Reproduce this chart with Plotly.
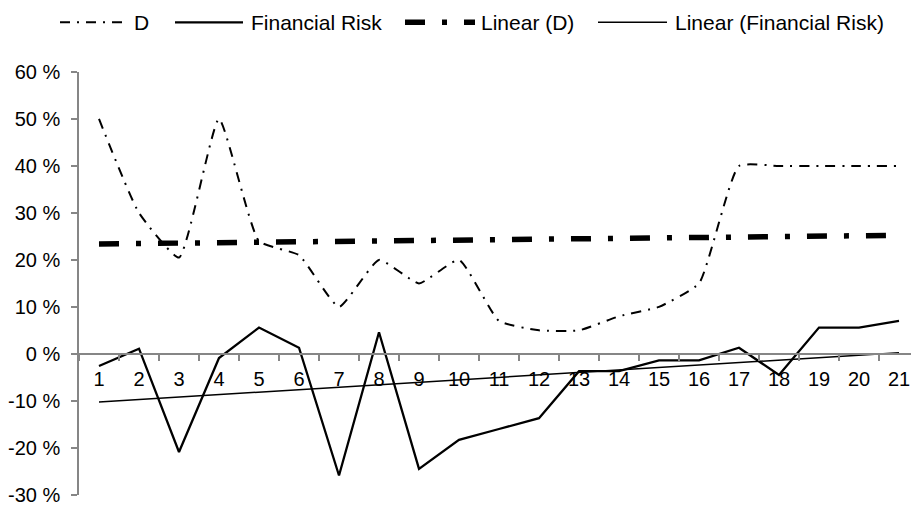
import numpy as np
import plotly.graph_objects as go

# Observations 1..21
periods = [str(i) for i in range(1, 22)]

# Series values in percent
d_values = [50, 30, 20.5, 50, 24, 21, 10, 20, 15, 20, 7, 5, 5, 8, 10, 15, 40, 40, 40, 40, 40]
financial_risk = [-2.6, 1.1, -20.9, -0.9, 5.6, 1.3, -25.9, 4.6, -24.5, -18.3, -16.0,
                  -13.7, -3.7, -3.7, -1.4, -1.4, 1.3, -4.5, 5.6, 5.6, 7.0]

y_ticks = [-30, -20, -10, 0, 10, 20, 30, 40, 50, 60]
y_tick_text = [f"{v} %" for v in y_ticks]

series_names = ["D", "Financial Risk", "Linear (D)", "Linear (Financial Risk)"]

# Least-squares linear trend lines, as in a spreadsheet "Linear" trendline
idx = np.arange(1, len(periods) + 1)
d_fit = np.polyval(np.polyfit(idx, d_values, 1), idx)
fr_fit = np.polyval(np.polyfit(idx, financial_risk, 1), idx)

FONT = "Liberation Sans, Arial, sans-serif"
AXIS_GREY = "#868686"
W, H = 911, 506
ML, MR, MT, MB = 79, 0, 72, 8
PW, PH = W - ML - MR, H - MT - MB

styles = [
    dict(color="black", width=2, dash="10px,7px,2px,7px"),
    dict(color="black", width=2.3),
    dict(color="black", width=5.5, dash="20px,17px,5px,17px"),
    dict(color="black", width=1.5),
]

fig = go.Figure()
fig.add_trace(go.Scatter(
    x=periods, y=d_values, name=series_names[0], mode="lines",
    line=dict(**styles[0], shape="spline", smoothing=0.45),
))
fig.add_trace(go.Scatter(x=periods, y=financial_risk, name=series_names[1], mode="lines", line=styles[1]))
fig.add_trace(go.Scatter(x=periods, y=d_fit, name=series_names[2], mode="lines", line=styles[2]))
fig.add_trace(go.Scatter(x=periods, y=fr_fit, name=series_names[3], mode="lines", line=styles[3]))


def px_x(p):
    return (p - ML) / PW


def px_y(p):
    return (H - MB - p) / PH


# Legend row across the top: (symbol start, symbol end, text start) in pixels
legend_slots = [(60, 124, 132), (175, 243, 249), (405, 475, 479), (598, 667, 673)]
legend_y = 22
for name, style, (s0, s1, t0) in zip(series_names, styles, legend_slots):
    fig.add_shape(
        type="line", xref="paper", yref="paper",
        x0=px_x(s0), x1=px_x(s1), y0=px_y(legend_y), y1=px_y(legend_y),
        line=style,
    )
    fig.add_annotation(
        text=name, xref="paper", yref="paper", x=px_x(t0), y=px_y(legend_y),
        xanchor="left", yanchor="middle", showarrow=False,
        font=dict(family=FONT, size=21, color="black"),
    )

fig.update_layout(
    width=W, height=H,
    margin=dict(l=ML, r=MR, t=MT, b=MB),
    paper_bgcolor="white", plot_bgcolor="white",
    font=dict(family=FONT, size=20, color="black"),
    showlegend=False,
    xaxis=dict(
        type="category", range=[-0.5, 20.3],
        anchor="free", position=1 / 3,
        showline=True, linecolor=AXIS_GREY, linewidth=1.5,
        ticks="outside", tickson="boundaries", ticklen=6, tickcolor=AXIS_GREY, tickwidth=1.5,
        ticklabelstandoff=7,
        showgrid=False, zeroline=False,
        tickfont=dict(family=FONT, size=20, color="black"),
    ),
    yaxis=dict(
        range=[-30.05, 60], tickvals=y_ticks, ticktext=y_tick_text,
        showline=True, linecolor=AXIS_GREY, linewidth=1.5,
        ticks="outside", ticklen=6, tickcolor=AXIS_GREY, tickwidth=1.5,
        ticklabelstandoff=7, ticklabeloverflow="allow",
        showgrid=False, zeroline=False,
        tickfont=dict(family=FONT, size=20, color="black"),
    ),
)

fig.write_html("out.html")
